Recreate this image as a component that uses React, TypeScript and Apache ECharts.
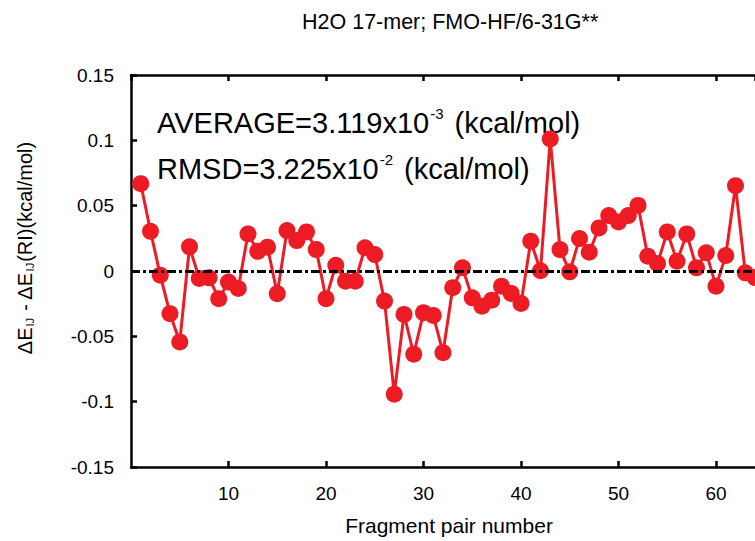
import React, { useEffect, useRef } from "react";
import * as echarts from "echarts";

const chartTitle = "H2O 17-mer; FMO-HF/6-31G**";
const xAxisTitle = "Fragment pair number";
const yTicks = { min: -0.15, max: 0.15, interval: 0.05 };
const xTicks = { min: 0, max: 64, interval: 10 };

// Difference per fragment pair (kcal/mol), pairs 1..64
const pairDiffs = [
  0.0668, 0.0304, -0.0032, -0.0327, -0.0543, 0.0185, -0.0057, -0.0052, -0.0212, -0.0085,
  -0.0134, 0.0284, 0.0151, 0.0182, -0.0174, 0.0309, 0.0233, 0.0299, 0.0164, -0.0212,
  0.0044, -0.0078, -0.0078, 0.0177, 0.0126, -0.023, -0.0943, -0.0332, -0.0637, -0.0319,
  -0.034, -0.0625, -0.0128, 0.0024, -0.0205, -0.0269, -0.0223, -0.0116, -0.0172, -0.0248,
  0.0228, 0.0002, 0.1011, 0.0164, -0.0006, 0.0248, 0.0144, 0.033, 0.0424, 0.0375,
  0.0424, 0.0502, 0.0113, 0.0057, 0.0299, 0.0075, 0.0284, 0.0024, 0.0139, -0.0116,
  0.0118, 0.0653, -0.0014, -0.005,
];

const FONT = "'Liberation Sans', Arial, Helvetica, sans-serif";

export default function App() {
  const ref = useRef<HTMLDivElement>(null);
  useEffect(() => {
    if (!ref.current) return;
    const chart = echarts.init(ref.current, undefined, { renderer: "svg" });
    const data = pairDiffs.map((v, i) => [i + 1, v]);
    const axisLine = { show: true, onZero: false, lineStyle: { color: "#000", width: 2.5 } };
    const axisTick = { show: true, inside: true, length: 6, lineStyle: { color: "#000", width: 2.5 } };
    const supStyle = { fontSize: 15, fontFamily: FONT, fill: "#000", verticalAlign: "top", lineHeight: 15, padding: [0, 3, 0, 1] };
    chart.setOption({
      animation: false,
      backgroundColor: "#fff",
      textStyle: { fontFamily: FONT },
      grid: { left: 131, right: 0, top: 75, bottom: 72, containLabel: false },
      xAxis: [
        {
          type: "value",
          position: "bottom",
          min: xTicks.min,
          max: xTicks.max,
          interval: xTicks.interval,
          axisLine,
          axisTick,
          splitLine: { show: false },
          axisLabel: {
            color: "#000",
            fontSize: 19,
            fontFamily: FONT,
            margin: 17,
            showMinLabel: false,
            showMaxLabel: false,
            formatter: (v: number) => (v % 10 === 0 && v !== 0 ? String(v) : ""),
          },
          name: xAxisTitle,
          nameLocation: "middle",
          nameGap: 48,
          nameTextStyle: { color: "#000", fontSize: 21, fontFamily: FONT, padding: [0, 0, 0, 12] },
        },
        {
          type: "value",
          position: "top",
          min: xTicks.min,
          max: xTicks.max,
          interval: xTicks.interval,
          axisLine,
          axisTick,
          splitLine: { show: false },
          axisLabel: { show: false },
        },
      ],
      yAxis: {
        type: "value",
        min: yTicks.min,
        max: yTicks.max,
        interval: yTicks.interval,
        axisLine,
        axisTick,
        splitLine: { show: false },
        axisLabel: {
          color: "#000",
          fontSize: 19,
          fontFamily: FONT,
          margin: 17,
          formatter: (v: number) => String(Math.round(v * 100) / 100),
        },
      },
      graphic: [
        {
          type: "text",
          left: 302,
          top: 11,
          style: { text: chartTitle, fontSize: 21.5, fontFamily: FONT, fill: "#000" },
        },
        {
          type: "text",
          x: 25,
          y: 248,
          rotation: Math.PI / 2,
          style: {
            text: "ΔE{sub|IJ} - ΔE{sub|IJ}(RI)(kcal/mol)",
            fontSize: 20,
            fontFamily: FONT,
            fill: "#000",
            align: "center",
            verticalAlign: "middle",
            lineHeight: 24,
            rich: {
              sub: { fontSize: 11, fontFamily: FONT, fill: "#000", verticalAlign: "bottom", lineHeight: 24, padding: [0, 1, 2, 1] },
            },
          },
        },
        {
          type: "text",
          x: 157,
          y: 106,
          style: {
            text: "AVERAGE=3.119x10{sup|-3} (kcal/mol)",
            fontSize: 29,
            fontFamily: FONT,
            fill: "#000",
            lineHeight: 33,
            verticalAlign: "top",
            rich: { sup: supStyle },
          },
        },
        {
          type: "text",
          x: 157,
          y: 152,
          style: {
            text: "RMSD=3.225x10{sup|-2} (kcal/mol)",
            fontSize: 29,
            fontFamily: FONT,
            fill: "#000",
            lineHeight: 33,
            verticalAlign: "top",
            rich: { sup: supStyle },
          },
        },
      ],
      series: [
        {
          type: "line",
          data,
          xAxisIndex: 0,
          yAxisIndex: 0,
          clip: true,
          symbol: "circle",
          symbolSize: 17,
          color: "#ed1c24",
          itemStyle: { color: "#ed1c24" },
          lineStyle: { color: "#ed1c24", width: 3 },
          markLine: {
            silent: true,
            symbol: "none",
            label: { show: false },
            z: 10,
            lineStyle: { color: "#000", width: 3, type: [9, 3, 3, 3] },
            data: [{ yAxis: 0 }],
          },
        },
      ],
    });
    return () => chart.dispose();
  }, []);
  return (
    <div
      ref={ref}
      style={{ position: "fixed", left: 0, top: 0, width: 755, height: 541, background: "#fff" }}
    />
  );
}
